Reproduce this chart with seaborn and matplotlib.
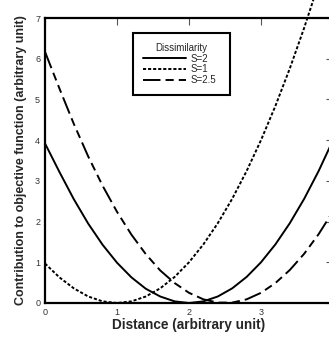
import matplotlib
matplotlib.use("Agg")
import matplotlib.pyplot as plt
import seaborn as sns
import pandas as pd

sns.set_style("white")
plt.rcParams['font.family'] = ['Liberation Sans', 'DejaVu Sans']

# Distances (arbitrary unit)
dist_s2 = [0.0, 0.2, 0.4, 0.6, 0.8, 1.0, 1.2, 1.4, 1.6, 1.8, 2.0, 2.2, 2.4, 2.6, 2.8, 3.0, 3.2, 3.4, 3.6, 3.8, 4.0]
val_s2 = [3.92, 3.22, 2.55, 1.95, 1.43, 0.99, 0.63, 0.35, 0.16, 0.04, 0.0, 0.04, 0.16, 0.36, 0.64, 1.0, 1.44, 1.96, 2.56, 3.24, 4.0]

dist_s1 = [0.0, 0.2, 0.4, 0.6, 0.8, 1.0, 1.2, 1.4, 1.6, 1.8, 2.0, 2.2, 2.4, 2.6, 2.8, 3.0, 3.2, 3.4, 3.6, 3.8]
val_s1 = [0.97, 0.63, 0.36, 0.16, 0.04, 0.0, 0.04, 0.16, 0.36, 0.64, 1.0, 1.44, 1.96, 2.56, 3.24, 4.0, 4.84, 5.76, 6.76, 7.84]

dist_s25 = [0.0, 0.2, 0.4, 0.6, 0.8, 1.0, 1.2, 1.4, 1.6, 1.8, 2.0, 2.2, 2.4, 2.6, 2.8, 3.0, 3.2, 3.4, 3.6, 3.8, 4.0]
val_s25 = [6.17, 5.27, 4.4, 3.6, 2.88, 2.24, 1.68, 1.2, 0.8, 0.49, 0.25, 0.09, 0.01, 0.01, 0.09, 0.25, 0.49, 0.81, 1.21, 1.69, 2.25]

labels = ["S=2", "S=1", "S=2.5"]
x_ticks = [0, 1, 2, 3, 4]
y_ticks = [0, 1, 2, 3, 4, 5, 6, 7]

df = pd.concat([
    pd.DataFrame({"d": dist_s2, "v": val_s2, "S": labels[0]}),
    pd.DataFrame({"d": dist_s1, "v": val_s1, "S": labels[1]}),
    pd.DataFrame({"d": dist_s25, "v": val_s25, "S": labels[2]}),
], ignore_index=True)

fig = plt.figure(figsize=(3.29, 3.39), dpi=100)
ax = fig.add_axes([45/329, 36/339, 288/329, 285/339])

sns.lineplot(data=df, x="d", y="v", style="S", hue="S",
             palette=["black", "black", "black"],
             dashes=["", (1.6, 1.0), (9.0, 2.6, 4.2, 2.6, 4.2, 2.6)],
             linewidth=1.4, ax=ax, sort=False, clip_on=False)
for ln in ax.lines:
    ln.set_clip_on(False)

ax.set_xlim(0, 4)
ax.set_ylim(0, 7)
ax.set_xticks(x_ticks)
ax.set_yticks(y_ticks)
ax.tick_params(direction="in", length=5, width=0.8, color="#555555",
               labelsize=6.5, labelcolor="#333333",
               top=True, right=True, pad=3.5)
for s in ax.spines.values():
    s.set_linewidth(1.6)
    s.set_color("black")

ax.set_xlabel("Distance (arbitrary unit)", fontsize=9.8, fontweight="bold", labelpad=1)
ax.set_ylabel("Contribution to objective function (arbitrary unit)", fontsize=9,
              fontweight="bold", labelpad=6)

leg = ax.legend(title="Dissimilarity", loc="upper left",
                bbox_to_anchor=(0.3056, 0.947 - 0.218, 0.337, 0.218), mode="expand",
                fontsize=7, title_fontsize=7, frameon=True, fancybox=False,
                handlelength=4.4, handletextpad=0.5, borderpad=1.0,
                labelspacing=0.08, edgecolor="black", borderaxespad=0)
leg.get_frame().set_linewidth(1.5)
leg.get_frame().set_alpha(1)
for h in leg.get_lines():
    h.set_linewidth(1.4)

fig.savefig("out.png", dpi=100)
